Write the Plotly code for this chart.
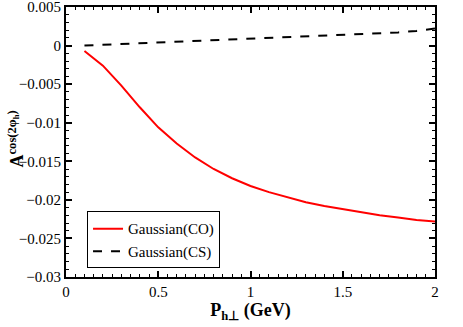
import plotly.graph_objects as go

# Data
pt = [0.1, 0.2, 0.3, 0.4, 0.5, 0.6, 0.7, 0.8, 0.9, 1.0, 1.1, 1.2, 1.3, 1.4, 1.5, 1.6, 1.7, 1.8, 1.9, 2.0]
gauss_co = [-0.0007, -0.0026, -0.0052, -0.0080, -0.0106, -0.0127, -0.0145, -0.0160, -0.0172, -0.0182,
            -0.0190, -0.0197, -0.0203, -0.0208, -0.0212, -0.0216, -0.0220, -0.0223, -0.0226, -0.0228]
gauss_cs = [0.0, 0.0001, 0.0002, 0.0003, 0.0004, 0.0005, 0.0006, 0.0007, 0.0008, 0.0009,
            0.0010, 0.0011, 0.0012, 0.0013, 0.0014, 0.0015, 0.0016, 0.0017, 0.0019, 0.0022]

font_name = 'Times New Roman'

fig = go.Figure()
fig.add_trace(go.Scatter(x=pt, y=gauss_co, mode='lines', name='Gaussian(CO)',
                         line=dict(color='red', width=2)))
fig.add_trace(go.Scatter(x=pt, y=gauss_cs, mode='lines', name='Gaussian(CS)',
                         line=dict(color='black', width=2, dash='dash')))

axis_common = dict(
    showline=True, linewidth=2, linecolor='black', mirror='ticks',
    ticks='inside', ticklen=6, tickwidth=1.5, tickcolor='black',
    showgrid=False, zeroline=False, automargin=False,
    ticklabeloverflow='allow',
    tickfont=dict(family=font_name, size=15, color='black'),
)

fig.update_layout(
    width=463, height=327,
    margin=dict(l=66, r=28, t=7, b=50),
    paper_bgcolor='white', plot_bgcolor='white',
    font=dict(family=font_name, color='black'),
    xaxis=dict(range=[0, 2], dtick=0.5, tick0=0,
               minor=dict(dtick=0.05, ticks='inside', ticklen=3, tickcolor='black', tickwidth=1),
               title=dict(text='<b>P<sub>h\u22a5</sub> (GeV)</b>', font=dict(family=font_name, size=18), standoff=2),
               **axis_common),
    yaxis=dict(range=[-0.03, 0.005], dtick=0.005, tick0=0,
               minor=dict(dtick=0.001, ticks='inside', ticklen=3, tickcolor='black', tickwidth=1),
               **axis_common),
    legend=dict(x=0.057, y=0.243, xanchor='left', yanchor='top',
                bgcolor='white', bordercolor='black', borderwidth=1,
                font=dict(family=font_name, size=15), tracegroupgap=0),
    showlegend=True,
)

# y-axis title as a rotated annotation so it can sit a little lower, as in the original
fig.add_annotation(text='<b>A<sup>cos(2\u03c6<sub>h</sub>)</sup></b>', textangle=-90,
                   xref='paper', yref='paper', x=-0.135, y=0.51,
                   xanchor='center', yanchor='middle', showarrow=False,
                   font=dict(family=font_name, size=18, color='black'))

# drop the page's default body margin so the figure sits at the window's corner
fig.write_html("out.html", config=dict(displayModeBar=False),
               post_script="document.body.style.margin='0';")
